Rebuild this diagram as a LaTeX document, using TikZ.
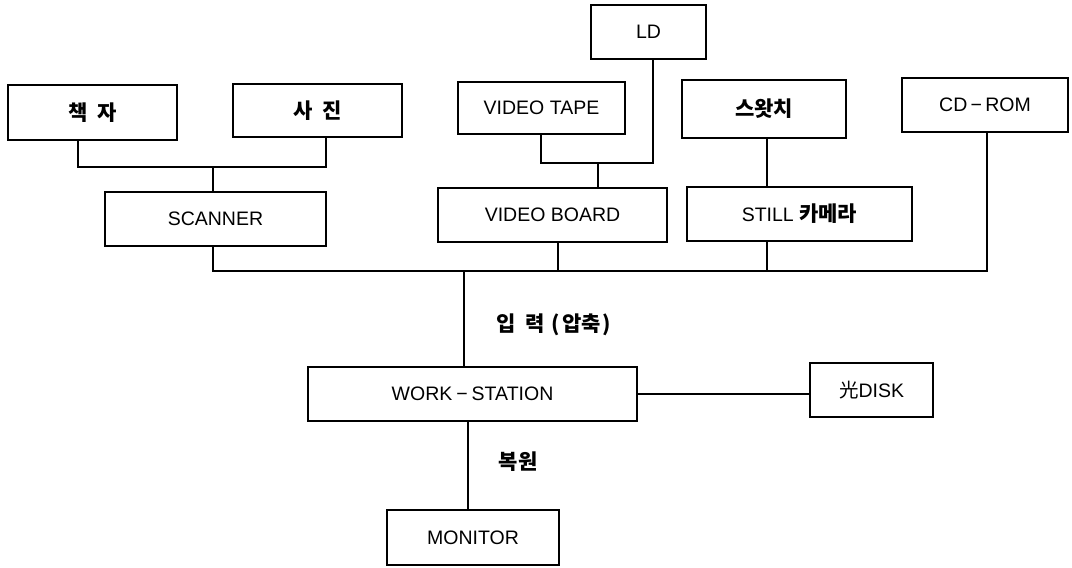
\documentclass[tikz,border=0pt]{standalone}
\usepackage{fontspec}
\setmainfont{Liberation Sans}
\newfontfamily\kr{Noto Sans CJK KR}
\newcommand{\hk}[1]{{\kr\bfseries\fontsize{21}{24}\selectfont #1}}
\begin{document}
\begin{tikzpicture}[x=1pt,y=-1pt,
  box/.style={draw, line width=1.1pt, inner sep=0pt, minimum height=54, font=\fontsize{19.5}{22}\selectfont},
  wire/.style={line width=1.1pt},
  lbl/.style={inner sep=0pt}]
\useasboundingbox (0,0) rectangle (1072,568);
% boxes
\node[box, minimum width=169, minimum height=55] (chaekja) at (92.5,112.5) {\hk{책\hspace{10pt}자}};
\node[box, minimum width=169, minimum height=53] (sajin) at (317.5,110.5) {\hk{사\hspace{10pt}진}};
\node[box, minimum width=115] (ld) at (648.5,32) {LD};
\node[box, minimum width=167, minimum height=52] (vtape) at (541.5,108) {VIDEO TAPE};
\node[box, minimum width=164, minimum height=58] (swatch) at (764,109) {\hk{스왓치}};
\node[box, minimum width=166] (cdrom) at (985,105) {CD\,−\,ROM};
\node[box, minimum width=221] (scanner) at (215.5,219) {SCANNER};
\node[box, minimum width=229] (vboard) at (552.5,215) {VIDEO BOARD};
\node[box, minimum width=225] (still) at (799.5,214) {STILL \hk{카메라}};
\node[box, minimum width=329] (ws) at (472.5,394) {WORK\hspace{4pt}−\hspace{4pt}STATION};
\node[box, minimum width=123] (disk) at (871.5,390) {{\kr 光}DISK};
\node[box, minimum width=172, minimum height=55] (monitor) at (473,537.5) {MONITOR};
% junction coordinates
\coordinate (j1) at (213,167);
\coordinate (j2) at (598,163);
\coordinate (busL) at (213,271);
\coordinate (busR) at (987,271);
\coordinate (jin) at (464,271);
% connectors
\draw[wire] (chaekja.south -| 78,0) |- (j1) -| (sajin.south -| 326,0);
\draw[wire] (j1) -- (scanner.north -| j1);
\draw[wire] (vtape.south -| 541,0) |- (j2) -| (ld.south -| 653,0);
\draw[wire] (j2) -- (vboard.north -| j2);
\draw[wire] (swatch.south -| 767,0) -- (still.north -| 767,0);
\draw[wire] (scanner.south -| busL) -- (busL) -- (busR) -- (cdrom.south -| busR);
\draw[wire] (vboard.south -| 558,0) -- (558,271);
\draw[wire] (still.south -| 767,0) -- (767,271);
\draw[wire] (jin) -- (ws.north -| jin);
\draw[wire] (ws.east) -- (disk.west |- ws.east);
\draw[wire] (ws.south -| 468,0) -- (monitor.north -| 468,0);
% labels
\node[lbl] (in) at (554,325) {\hk{입\hspace{9pt}력\hspace{7pt}(\hspace{2pt}압축\hspace{2pt})}};
\node[lbl] (rest) at (518,462) {\hk{복원}};
\end{tikzpicture}
\end{document}
